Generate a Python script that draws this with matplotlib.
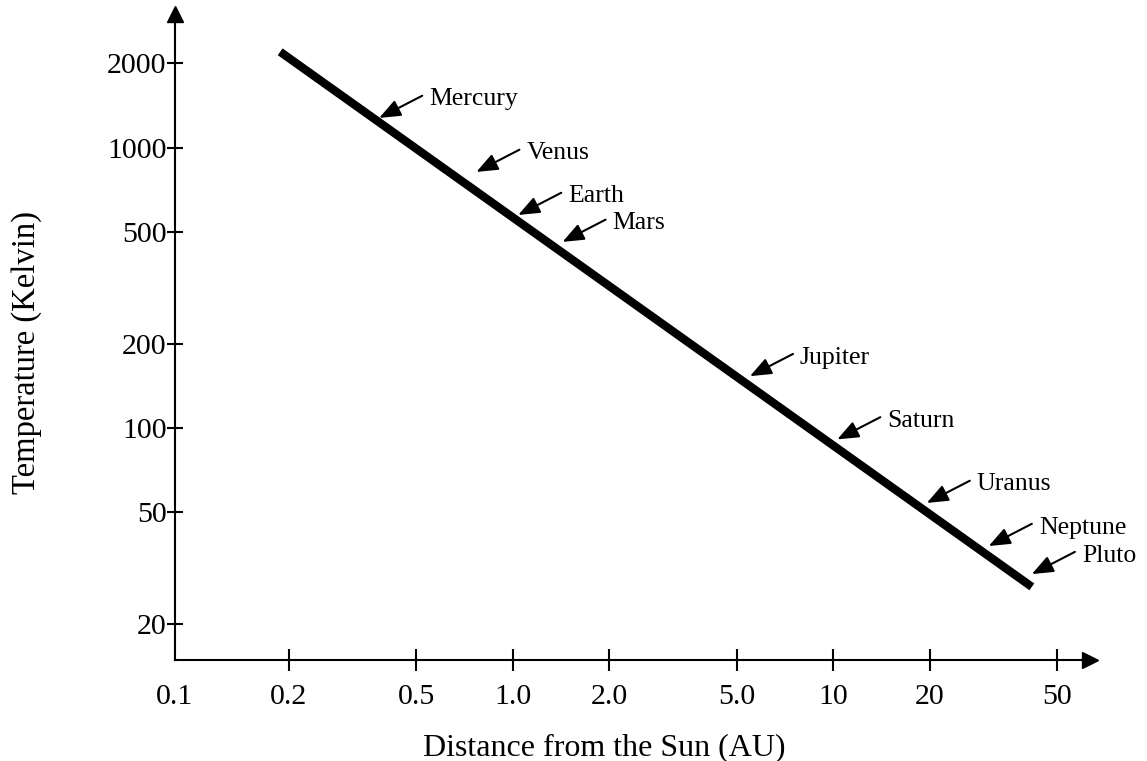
import numpy as np
import matplotlib
matplotlib.use("Agg")
from matplotlib import pyplot as plt

plt.rcParams['font.family'] = ['Liberation Serif', 'DejaVu Serif']

# temperature line, as drawn (AU, Kelvin)
line_dist = [0.188, 41.7]
line_temp = [2197, 27.1]

# planets: where each arrow points
planets = ['Mercury', 'Venus', 'Earth', 'Mars', 'Jupiter', 'Saturn', 'Uranus', 'Neptune', 'Pluto']
planet_dist = [0.383, 0.77, 1.04, 1.43, 5.5, 10.3, 19.6, 30.6, 41.7]
planet_temp = [1276, 819, 575, 461, 153, 91, 54, 37.9, 30.1]

x_ticks = [0.2, 0.5, 1.0, 2.0, 5.0, 10, 20, 50]
x_labels = ['0.2', '0.5', '1.0', '2.0', '5.0', '10', '20', '50']
y_ticks = [20, 50, 100, 200, 500, 1000, 2000]
y_labels = ['20', '50', '100', '200', '500', '1000', '2000']

fig = plt.figure(figsize=(11.47, 7.61), dpi=100)
ax = fig.add_axes([0.15257, 0.13272, 0.94987 - 0.15257, 0.98095 - 0.13272])

ax.plot(line_dist, line_temp, color='black', lw=6, solid_capstyle='butt')

ax.set_xscale('log')
ax.set_yscale('log')
ax.set_xlim(0.0883, 63.1)
ax.set_ylim(14.86, 2985)

ax.set_xticks(x_ticks)
ax.set_xticklabels(x_labels)
ax.set_yticks(y_ticks)
ax.set_yticklabels(y_labels)
ax.minorticks_off()
ax.tick_params(axis='x', direction='inout', length=16, width=1.5, pad=9.5, labelsize=21.5)
ax.tick_params(axis='y', direction='inout', length=12, width=1.5, pad=0, labelsize=21.5)

# "0.1" sits under the origin, no tick
ax.annotate('0.1', xy=(0, 0), xycoords='axes fraction', xytext=(0, -17.5),
            textcoords='offset points', ha='center', va='top', fontsize=21.5)

for s in ['top', 'right']:
    ax.spines[s].set_visible(False)
for s in ['left', 'bottom']:
    ax.spines[s].set_linewidth(1.5)

# arrow heads on the axes
ax.plot(1, 0, '>', color='black', ms=11, transform=ax.transAxes, clip_on=False)
ax.plot(0, 1, '^', color='black', ms=11, transform=ax.transAxes, clip_on=False)

for name, d, t in zip(planets, planet_dist, planet_temp):
    ax.annotate('', xy=(d, t), xytext=(31, 16), textcoords='offset points',
                arrowprops=dict(arrowstyle='-|>,head_length=0.5,head_width=0.2',
                                color='black', lw=1.5,
                                mutation_scale=26, shrinkA=0, shrinkB=0))
    ax.annotate(name, xy=(d, t), xytext=(36, 9), textcoords='offset points',
                ha='left', va='baseline', fontsize=18.5)

ax.set_xlabel('Distance from the Sun (AU)', fontsize=23, va='baseline')
ax.xaxis.set_label_coords(0.469, -0.1472)
ax.set_ylabel('Temperature (Kelvin)', fontsize=23.5, va='center')
ax.yaxis.set_label_coords(-0.1618, 0.4756)

fig.savefig('out.png', dpi=100)
